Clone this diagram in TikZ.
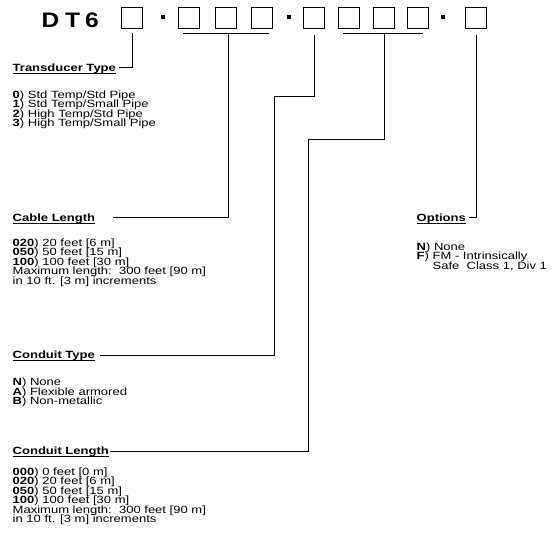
\documentclass[tikz,border=0pt]{standalone}
\usepackage{fontspec}
\setmainfont{Liberation Sans}[FakeStretch=1.24,
  BoldFont={Liberation Sans Bold},BoldFeatures={FakeStretch=1.24}]
\newfontfamily\titlefont{Liberation Sans Bold}[FakeStretch=1.17]
\usetikzlibrary{calc}
\newcommand{\itm}[2]{\textbf{#1}) #2}
\begin{document}
\begin{tikzpicture}[x=1pt,y=1pt,
  digitbox/.style={draw=black,line width=1.3pt,minimum size=21pt,inner sep=0pt},
  dotsq/.style={fill=black,minimum size=4.5pt,inner sep=0pt},
  conn/.style={draw=black,line width=1pt},
  heading/.style={font=\fontsize{10.5}{9.5}\selectfont\bfseries,inner sep=0pt,anchor=base west},
  body/.style={font=\fontsize{10.5}{9.5}\selectfont,inner sep=0pt,anchor=base west},
  uline/.style={draw=black,line width=0.9pt}]
\useasboundingbox (0,0) rectangle (558,-556);
\fill[white] (0,0) rectangle (558,-556);
% title
\node[font=\fontsize{21}{21}\selectfont\titlefont,inner sep=0pt,anchor=base west] (title) at (41.5,-28) {D\hspace{5.8pt}T\hspace{4.8pt}6};
% boxes
\node[digitbox] (b1) at (132,-18) {};
\node[dotsq] (d1) at (163,-17) {};
\node[digitbox] (b2) at (189,-18) {};
\node[digitbox] (b3) at (226,-18) {};
\node[digitbox] (b4) at (262,-18) {};
\node[dotsq] (d2) at (289,-17) {};
\node[digitbox] (b5) at (314,-18) {};
\node[digitbox] (b6) at (349,-18) {};
\node[digitbox] (b7) at (384,-18) {};
\node[digitbox] (b8) at (418,-18) {};
\node[dotsq] (d3) at (443,-17) {};
\node[digitbox] (b9) at (476,-18) {};
% brackets
\coordinate (br1l) at (183,-34);
\coordinate (br1r) at (269,-34);
\coordinate (br1m) at (228,-34);
\coordinate (br2l) at (343,-34);
\coordinate (br2r) at (423,-34);
\coordinate (br2m) at (384,-34);
\draw[conn] (br1l) -- (br1r);
\draw[conn] (br2l) -- (br2r);
% headings
\node[heading] (tt) at (12.5,-71.5) {Transducer Type};
\node[heading] (cl) at (12.5,-221.5) {Cable Length};
\node[heading] (ct) at (12.5,-359) {Conduit Type};
\node[heading] (cnl) at (12.5,-455) {Conduit Length};
\node[heading] (op) at (416.5,-221.5) {Options};
\foreach \n in {tt,cl,ct,cnl,op}
  \draw[uline] ($(\n.base west)+(0,-1.6)$) -- ($(\n.base east)+(0,-1.6)$);
% connector ends
\coordinate (tt-e) at (119,-68);
\coordinate (cl-e) at (113,-218);
\coordinate (ct-e) at (100,-355.5);
\coordinate (cnl-e) at (110,-451.5);
\coordinate (op-e) at (469,-218);
\coordinate (b5a) at (314,-35);
\coordinate (b5j) at (274,-97);
\coordinate (b9a) at (476,-35);
\coordinate (b1a) at (132,-33);
\coordinate (br2j) at (308,-140);
\draw[conn] (b1a) |- (tt-e);
\draw[conn] (br1m) |- (cl-e);
\draw[conn] (b5a) |- (b5j) |- (ct-e);
\draw[conn] (br2m) |- (br2j) |- (cnl-e);
\draw[conn] (b9a) |- (op-e);
% lists
\foreach \t [count=\i from 0] in {{\itm{0}{Std Temp/Std Pipe}},{\itm{1}{Std Temp/Small Pipe}},{\itm{2}{High Temp/Std Pipe}},{\itm{3}{High Temp/Small Pipe}}}
  \node[body] (ttl\i) at (12.5,-98.5-9.5*\i) {\t};
\foreach \t [count=\i from 0] in {{\itm{020}{20 feet [6 m]}},{\itm{050}{50 feet [15 m]}},{\itm{100}{100 feet [30 m]}},{Maximum length:\ \ 300 feet [90 m]},{in 10 ft. [3 m] increments}}
  \node[body] (cll\i) at (12.5,-246.5-9.5*\i) {\t};
\foreach \t [count=\i from 0] in {{\itm{N}{None}},{\itm{A}{Flexible armored}},{\itm{B}{Non-metallic}}}
  \node[body] (ctl\i) at (12.5,-386-9.5*\i) {\t};
\foreach \t [count=\i from 0] in {{\itm{000}{0 feet [0 m]}},{\itm{020}{20 feet [6 m]}},{\itm{050}{50 feet [15 m]}},{\itm{100}{100 feet [30 m]}},{Maximum length:\ \ 300 feet [90 m]},{in 10 ft. [3 m] increments}}
  \node[body] (cnll\i) at (12.5,-475.5-9.5*\i) {\t};
\foreach \t [count=\i from 0] in {{\itm{N}{None}},{\itm{F}{FM - Intrinsically}},{\phantom{\textbf{F}) }Safe\ \ Class 1, Div 1}}
  \node[body] (opl\i) at (416.5,-250.5-9.5*\i) {\t};
\end{tikzpicture}
\end{document}
